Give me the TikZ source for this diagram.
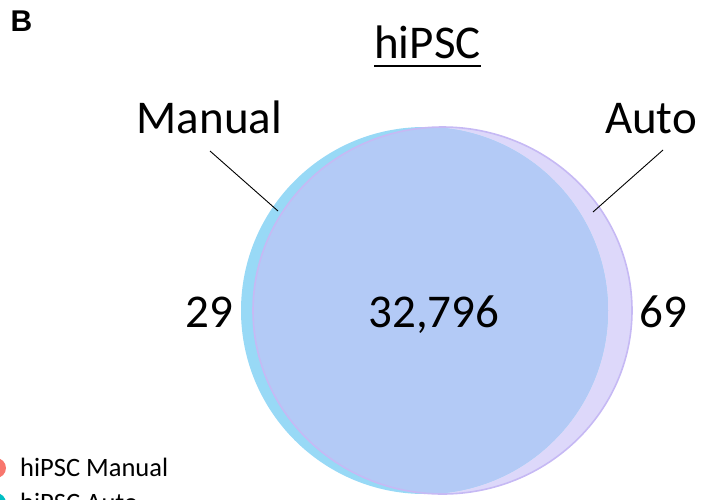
\documentclass[tikz,border=0pt]{standalone}
\usepackage{fontspec}
\setmainfont{Carlito}
\newfontfamily\panelfont{Liberation Sans}
\definecolor{mancyan}{HTML}{98D9F6}
\definecolor{autolav}{HTML}{DDD8FA}
\definecolor{bothblue}{HTML}{B3CAF6}
\definecolor{autoedge}{HTML}{C6B9F4}
\definecolor{legred}{HTML}{F8766D}
\definecolor{legcyan}{HTML}{00BFC4}
\tikzset{
  big/.style={font=\fontsize{47}{50}\selectfont, inner sep=0pt},
  leg/.style={font=\fontsize{26.5}{29}\selectfont, inner sep=0pt, anchor=base west},
  leader/.style={draw=black, line width=0.9pt},
}
\begin{document}
\begin{tikzpicture}[x=1pt,y=-1pt]
\useasboundingbox (0,0) rectangle (721,499);
\clip (0,0) rectangle (721,499);

% set areas
\fill[autolav] (442.5,310.5) ellipse [x radius=189.5, y radius=183.5];
\fill[mancyan] (424.5,310.5) circle [radius=183.5];
\begin{scope}
  \clip (424.5,310.5) circle [radius=183.5];
  \fill[bothblue] (442.5,310.5) ellipse [x radius=189.5, y radius=183.5];
\end{scope}
\draw[autoedge, line width=1.6pt] (442.5,310.5) ellipse [x radius=189.5, y radius=183.5];

% panel letter and title
\node[font=\panelfont\bfseries\fontsize{30}{32}\selectfont, anchor=base west, inner sep=0pt] (panel) at (10.5,31.5) {B};
\node[big, anchor=base] (title) at (427.5,58) {hiPSC};
\draw[line width=2pt] (374,65.5) -- (480.5,65.5);

% set names with leaders
\node[big, anchor=base] (lman) at (209.5,133) {Manual};
\node[big, anchor=base] (lauto) at (651,133) {Auto};
\coordinate (pman) at (278,211);
\coordinate (pauto) at (593,212);
\coordinate (sman) at (210,151);
\coordinate (sauto) at (663,150);
\draw[leader] (sman) -- (pman);
\draw[leader] (sauto) -- (pauto);

% counts
\node[big, anchor=base] (nman) at (209,327) {29};
\node[big, anchor=base] (nboth) at (434,327) {32,796};
\node[big, anchor=base] (nauto) at (663,327) {69};

% legend
\fill[legred] (-4,468) circle [radius=10];
\node[leg] (legman) at (20,476) {hiPSC Manual};
\fill[legcyan] (-4,503) circle [radius=10];
\node[leg] (legauto) at (20,511) {hiPSC Auto};
\end{tikzpicture}
\end{document}
